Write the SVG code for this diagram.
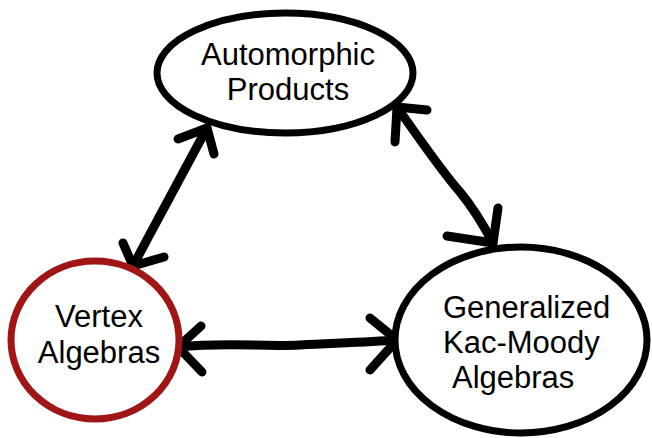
<svg xmlns="http://www.w3.org/2000/svg" width="652" height="438" viewBox="0 0 652 438">
<style>
.node{fill:#fff;stroke:#000;stroke-width:7}
.red{stroke:#a01515}
.lbl{font-family:"Liberation Sans",Arial,sans-serif;font-size:31px;fill:#000}
.conn path{fill:none;stroke:#000;stroke-width:9;stroke-linecap:round;stroke-linejoin:round}
</style>
<rect width="652" height="438" fill="#fff"/>
<g class="conn" id="connectors">
<path d="M207,128 C190,160 160,215 133,266"/>
<path d="M178,139 L207,128 L214,154"/>
<path d="M123,243 L133,266 L164,257"/>
<path d="M397,107 C420,140 445,175 460,192 C475,210 485,228 493,243"/>
<path d="M427,110 L397,107 L395,142"/>
<path d="M447,236 L493,243 L498,208"/>
<path d="M178,347 C230,342 260,347 300,345 C340,343 370,342 397,340"/>
<path d="M201,326 L178,347 L202,372"/>
<path d="M370,318 L397,340 L370,370"/>
</g>
<g id="automorphic">
<ellipse class="node" cx="285" cy="73" rx="128" ry="60"/>
<text class="lbl" x="288" y="65" text-anchor="middle">Automorphic</text>
<text class="lbl" x="288" y="100" text-anchor="middle">Products</text>
</g>
<g id="vertex">
<ellipse class="node red" cx="95" cy="340" rx="84" ry="79"/>
<text class="lbl" x="99" y="327" text-anchor="middle">Vertex</text>
<text class="lbl" x="99" y="363" text-anchor="middle">Algebras</text>
</g>
<g id="gkm">
<ellipse class="node" cx="521" cy="340" rx="126" ry="93"/>
<text class="lbl" x="443" y="318">Generalized</text>
<text class="lbl" x="443" y="353">Kac-Moody</text>
<text class="lbl" x="452" y="388">Algebras</text>
</g>
</svg>
